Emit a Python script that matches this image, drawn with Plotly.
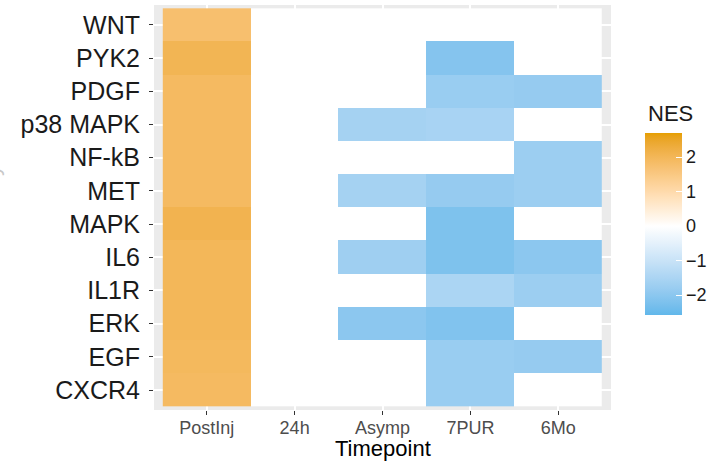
import numpy as np
import plotly.graph_objects as go

# ---- data -------------------------------------------------------------
pathways = ["WNT", "PYK2", "PDGF", "p38 MAPK", "NF-kB", "MET",
            "MAPK", "IL6", "IL1R", "ERK", "EGF", "CXCR4"]
timepoints = ["PostInj", "24h", "Asymp", "7PUR", "6Mo"]

# NES per timepoint, listed in pathway order (0 = not enriched)
nes_postinj = [1.75, 2.05, 1.90, 1.90, 1.90, 1.90, 2.10, 2.00, 2.00, 2.00, 1.95, 1.90]
nes_24h     = [0.00, 0.00, 0.00, 0.00, 0.00, 0.00, 0.00, 0.00, 0.00, 0.00, 0.00, 0.00]
nes_asymp   = [0.00, 0.00, 0.00, -1.60, 0.00, -1.60, 0.00, -1.70, 0.00, -2.00, 0.00, 0.00]
nes_7pur    = [0.00, -2.10, -1.80, -1.55, 0.00, -1.85, -2.20, -2.20, -1.50, -2.15, -1.80, -1.80]
nes_6mo     = [0.00, 0.00, -1.85, 0.00, -1.75, -1.75, 0.00, -2.00, -1.75, 0.00, -1.85, 0.00]

nes_limits = [-2.58, 2.70]
colorbar_ticks = [-2, -1, 0, 1, 2]

LOW, MID, HIGH = "#56B4E9", "#FFFFFF", "#E69F00"

# ---- diverging palette interpolated in CIE Lab ------------------------
def _hex_to_rgb(h):
    h = h.lstrip("#")
    return [int(h[i:i + 2], 16) / 255 for i in (0, 2, 4)]

def _srgb_to_lab(rgb):
    lin = [((c + 0.055) / 1.055) ** 2.4 if c > 0.04045 else c / 12.92 for c in rgb]
    x = (0.4124 * lin[0] + 0.3576 * lin[1] + 0.1805 * lin[2]) / 0.95047
    y = (0.2126 * lin[0] + 0.7152 * lin[1] + 0.0722 * lin[2])
    z = (0.0193 * lin[0] + 0.1192 * lin[1] + 0.9505 * lin[2]) / 1.08883
    f = lambda t: t ** (1 / 3) if t > 0.008856 else 7.787 * t + 16 / 116
    fx, fy, fz = f(x), f(y), f(z)
    return [116 * fy - 16, 500 * (fx - fy), 200 * (fy - fz)]

def _lab_to_hex(lab):
    L, a, b = lab
    fy = (L + 16) / 116
    fx = fy + a / 500
    fz = fy - b / 200
    finv = lambda t: t ** 3 if t ** 3 > 0.008856 else (t - 16 / 116) / 7.787
    x, y, z = finv(fx) * 0.95047, finv(fy), finv(fz) * 1.08883
    lin = [3.2406 * x - 1.5372 * y - 0.4986 * z,
           -0.9689 * x + 1.8758 * y + 0.0415 * z,
           0.0557 * x - 0.2040 * y + 1.0570 * z]
    out = []
    for c in lin:
        c = min(max(c, 0), 1)
        c = 1.055 * c ** (1 / 2.4) - 0.055 if c > 0.0031308 else 12.92 * c
        out.append(int(round(min(max(c, 0), 1) * 255)))
    return "#%02x%02x%02x" % tuple(out)

lab_low, lab_mid, lab_high = (_srgb_to_lab(_hex_to_rgb(c)) for c in (LOW, MID, HIGH))

def nes_color(v):
    # midpoint at 0, scaled by the largest absolute limit
    t = v / max(abs(nes_limits[0]), abs(nes_limits[1]))
    end = lab_high if t >= 0 else lab_low
    t = abs(t)
    return _lab_to_hex([m + (e - m) * t for m, e in zip(lab_mid, end)])

zmin, zmax = nes_limits
samples = sorted(set(np.round(np.linspace(zmin, zmax, 61), 4).tolist() + [0.0]))
colorscale = [[(v - zmin) / (zmax - zmin), nes_color(v)] for v in samples]
colorscale[0][0], colorscale[-1][0] = 0.0, 1.0

z = np.array([nes_postinj, nes_24h, nes_asymp, nes_7pur, nes_6mo]).T

# ---- figure -----------------------------------------------------------
FONT = "Liberation Sans"
ML, MR, MT, MB = 154, 112, 5, 58
W, H = 723, 468
plot_w, plot_h = W - ML - MR, H - MT - MB

fig = go.Figure(go.Heatmap(
    z=z, x=timepoints, y=pathways,
    zmin=zmin, zmax=zmax, colorscale=colorscale,
    hoverongaps=False,
    colorbar=dict(
        thickness=37, thicknessmode="pixels",
        len=182, lenmode="pixels",
        x=(645 - ML) / plot_w, xanchor="left", xpad=0,
        y=(H - MB - 224) / plot_h, yanchor="middle", ypad=0,
        outlinewidth=0,
        tickmode="array", tickvals=colorbar_ticks,
        ticks="inside", ticklen=6, tickwidth=1, tickcolor="white",
        tickprefix="\u00a0",
        tickfont=dict(family=FONT, size=18, color="#1a1a1a"),
    ),
))

fig.update_layout(
    width=W, height=H,
    margin=dict(l=ML, r=MR, t=MT, b=MB),
    paper_bgcolor="white", plot_bgcolor="#EBEBEB",
    font=dict(family=FONT),
    xaxis=dict(
        type="category", categoryorder="array", categoryarray=timepoints,
        range=[-0.6, len(timepoints) - 0.4],
        showgrid=True, gridcolor="white", gridwidth=1.5, zeroline=False,
        ticks="outside", ticklen=4, tickwidth=1.2, tickcolor="#333333",
        tickfont=dict(size=18, color="#4D4D4D"),
        ticklabelstandoff=-3,
    ),
    yaxis=dict(
        type="category", categoryorder="array", categoryarray=pathways,
        range=[len(pathways) - 0.4, -0.6],
        showgrid=True, gridcolor="white", gridwidth=1.5, zeroline=False,
        ticks="outside", ticklen=4, tickwidth=1.2, tickcolor="#333333",
        tickfont=dict(size=25, color="#1a1a1a"),
        ticklabelstandoff=4,
    ),
    annotations=[
        dict(text="Timepoint", xref="paper", yref="paper",
             x=0.5, y=(H - MB - 448) / plot_h,
             xanchor="center", yanchor="middle", showarrow=False,
             font=dict(size=22, color="black")),
        dict(text="NES", xref="paper", yref="paper",
             x=(646 - ML) / plot_w, y=(H - MB - 113) / plot_h,
             xanchor="left", yanchor="middle", showarrow=False,
             font=dict(size=22, color="#1a1a1a")),
        dict(text="Pathway", xref="paper", yref="paper",
             x=(-9 - ML) / plot_w, y=0.5, textangle=-90,
             xanchor="center", yanchor="middle", showarrow=False,
             font=dict(size=22, color="#c8c8c8")),
    ],
)

fig.write_html("out.html")
